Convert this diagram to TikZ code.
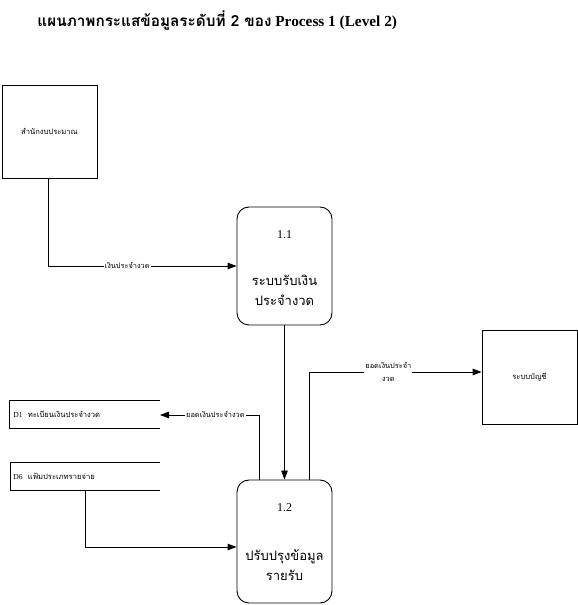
\documentclass[tikz,border=0pt]{standalone}
\usepackage{fontspec}
\setmainfont{Liberation Serif}
\newfontfamily\thai[Script=Thai]{Loma}
\usetikzlibrary{arrows.meta,calc}
\begin{document}
\begin{tikzpicture}[x=1pt,y=1pt,
  line width=0.9pt,
  ent/.style={draw,rectangle,minimum width=95pt,inner sep=0pt,font=\thai\fontsize{7.6}{8}\selectfont},
  proc/.style={draw,rectangle,rounded corners=12pt,minimum width=95pt,inner sep=0pt,align=center,font=\thai\fontsize{13}{20}\selectfont},
  ptxt/.style={inner sep=0pt,align=center,font=\thai\fontsize{13}{20}\selectfont},
  lbl/.style={fill=white,inner sep=1pt,align=center,font=\thai\fontsize{7.4}{12.5}\selectfont},
  storetxt/.style={anchor=west,inner sep=0pt,font=\thai\fontsize{7.6}{8}\selectfont},
  flow/.style={-{Triangle[length=9pt,width=6.5pt]}}]
\useasboundingbox (0,0) rectangle (578,605);
% title
\node[anchor=west,inner sep=0pt] (title) at (37,584) {\bfseries\fontsize{15.3}{18}\selectfont{\thai แผนภาพกระแสข้อมูลระดับที่ 2 ของ} Process 1 (Level 2)};
% external entities
\node[ent,minimum height=93pt] (ent1) at (49.5,473.5) {สำนักงบประมาณ};
\node[ent,minimum height=94pt] (acc) at (529.5,228) {ระบบบัญชี};
% processes
\node[proc,minimum height=118pt] (p11) at (284.5,339) {};
\node[ptxt] (p11t) at ($(p11.center)+(0,-2.5)$) {{\rmfamily\fontsize{12}{14}\selectfont 1.1}\\[27pt]ระบบรับเงิน\\ประจำงวด};
\node[proc,minimum height=123pt] (p12) at (284.5,63.5) {};
\node[ptxt] (p12t) at ($(p12.center)+(0,-0.5)$) {{\rmfamily\fontsize{12}{14}\selectfont 1.2}\\[29pt]ปรับปรุงข้อมูล\\รายรับ};
% data stores
\draw (160,205) -- (9,205) -- (9,177) -- (160,177);
\node[storetxt] (d1) at (13,191) {{\rmfamily D1}\ \ ทะเบียนเงินประจำงวด};
\coordinate (d1e) at (160,190);
\draw (160,143) -- (10,143) -- (10,115) -- (160,115);
\node[storetxt] (d6) at (13,129) {{\rmfamily D6}\ \ แฟ้มประเภทรายจ่าย};
\coordinate (d6s) at (85,115);
% flows
\draw[flow] (ent1.south -| 48,0) |- (p11.west) node[lbl,pos=0.71] {เงินประจำงวด};
\draw[flow] (p11.south) -- (p12.north);
\draw[flow] ($(p12.north)+(24.5,0)$) |- ($(acc.west)+(0,5)$) node[lbl,pos=0.73] {ยอดเงินประจำ\\งวด};
\draw[flow] ($(p12.north)+(-25.5,0)$) |- (d1e) node[lbl,pos=0.72] {ยอดเงินประจำงวด};
\draw[flow] (d6s) |- ($(p12.west)+(0,-5.5)$);
\end{tikzpicture}
\end{document}
